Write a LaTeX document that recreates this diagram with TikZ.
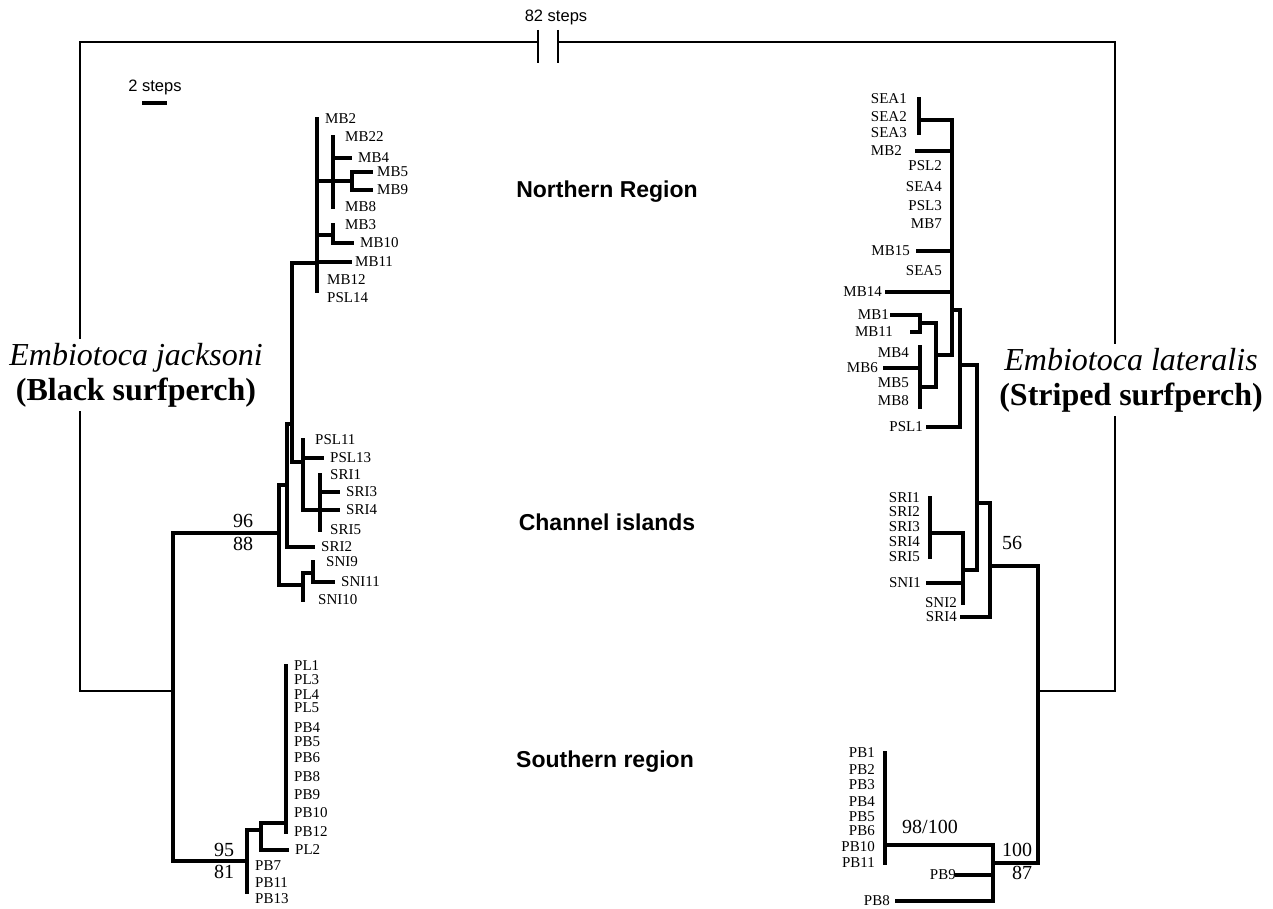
\documentclass[tikz,border=0pt]{standalone}
\usepackage{fontspec}
\setmainfont{Liberation Serif}
\setsansfont{Liberation Sans}
\usetikzlibrary{positioning,calc}
\newcommand{\leafsize}{\fontsize{15}{16}\selectfont}
\tikzset{
  branch/.style={line width=3.2pt, line cap=rect},
  frame/.style={line width=1.3pt},
  leafL/.style={anchor=west, inner xsep=8pt, inner ysep=1pt, font=\leafsize},
  leafR/.style={anchor=east, inner xsep=6pt, inner ysep=1pt, font=\leafsize},
  support/.style={inner sep=0pt, font=\fontsize{20}{22}\selectfont},
  region/.style={font=\sffamily\bfseries\fontsize{23}{26}\selectfont},
  steps/.style={inner sep=0pt, font=\sffamily\fontsize{16.5}{18}\selectfont},
  species/.style={align=center, fill=white, inner sep=4pt, font=\fontsize{32}{35}\selectfont},
}
\begin{document}
\begin{tikzpicture}[x=1pt, y=-1pt]
\useasboundingbox (0,0) rectangle (1273,909);

% internal nodes, E. jacksoni
\coordinate (jR)   at (173,691);
\coordinate (jA)   at (279,533);
\coordinate (jS)   at (247,861);
\coordinate (jB)   at (287,485);
\coordinate (jSN)  at (303,585);
\coordinate (jC)   at (292,424);
\coordinate (jN)   at (317,263);
\coordinate (jD)   at (303,462);
\coordinate (jE)   at (333,181);
\coordinate (jF)   at (352,181);
\coordinate (jG)   at (333,235);
\coordinate (jSR)  at (320,510);
\coordinate (jSN2) at (313,573);
\coordinate (jS2)  at (261,830);
\coordinate (jS3)  at (286,823);

% internal nodes, E. lateralis
\coordinate (lR)   at (1038,691);
\coordinate (lL)   at (990,566);
\coordinate (lT)   at (993,863);
\coordinate (lM)   at (977,503);
\coordinate (lO)   at (960,365);
\coordinate (lNs)  at (963,570);
\coordinate (lP)   at (952,310);
\coordinate (lSEA) at (919,120);
\coordinate (lQ)   at (936,355);
\coordinate (lQa)  at (920,323);
\coordinate (lQb)  at (920,387);
\coordinate (lSR)  at (930,533);
\coordinate (lPB)  at (885,845);

% frame with the 82 steps break
\coordinate (frameNW) at (80,42);
\coordinate (frameNE) at (1115,42);
\coordinate (brkL) at (538,42);
\coordinate (brkR) at (558,42);
\draw[frame] (jR) -| (frameNW) -- (brkL);
\draw[frame] (brkR) -- (frameNE) |- (lR);
\draw[frame] ([yshift=12pt]brkL) -- ([yshift=-21pt]brkL);
\draw[frame] ([yshift=12pt]brkR) -- ([yshift=-21pt]brkR);
\node[steps] (brkLbl) at (556,17) {82 steps};

% scale bar
\node[steps] (scaleLbl) at (155,87) {2 steps};
\draw[branch, line cap=butt] (142,103) -- (167,103);

\node[species] (jackLbl) at (136,375) {\textit{Embiotoca jacksoni}\\\textbf{(Black surfperch)}};
\node[species] (latLbl) at (1131,380) {\textit{Embiotoca lateralis}\\\textbf{(Striped surfperch)}};

\node[region] (northLbl) at (607,192) {Northern Region};
\node[region] (chanLbl)  at (607,522) {Channel islands};
\node[region] (southLbl) at (605,762) {Southern region};

% leaves, E. jacksoni
\node[leafL] (jMB2) at (317,119) {MB2};
\node[leafL, inner xsep=12pt] (jMB22) at (333,137) {MB22};
\node[leafL] (jMB4) at (350,158) {MB4};
\node[leafL, inner xsep=6pt] (jMB5) at (371,172) {MB5};
\node[leafL, inner xsep=6pt] (jMB9) at (371,190) {MB9};
\node[leafL, inner xsep=12pt] (jMB8) at (333,207) {MB8};
\node[leafL, inner xsep=12pt] (jMB3) at (333,225) {MB3};
\node[leafL] (jMB10) at (352,243) {MB10};
\node[leafL, inner xsep=5pt] (jMB11) at (350,262) {MB11};
\node[leafL, inner xsep=10pt] (jMB12) at (317,280) {MB12};
\node[leafL, inner xsep=10pt] (jPSL14) at (317,298) {PSL14};
\node[leafL, inner xsep=12pt] (jPSL11) at (303,440) {PSL11};
\node[leafL] (jPSL13) at (322,458) {PSL13};
\node[leafL, inner xsep=10pt] (jSRI1) at (320,475) {SRI1};
\node[leafL] (jSRI3) at (338,492) {SRI3};
\node[leafL] (jSRI4) at (338,510) {SRI4};
\node[leafL, inner xsep=10pt] (jSRI5) at (320,530) {SRI5};
\node[leafL] (jSRI2) at (313,547) {SRI2};
\node[leafL, inner xsep=13pt] (jSNI9) at (313,562) {SNI9};
\node[leafL] (jSNI11) at (333,582) {SNI11};
\node[leafL, inner xsep=15pt] (jSNI10) at (303,600) {SNI10};
\foreach \lbl/\yy in {PL1/666, PL3/680, PL4/695, PL5/708, PB4/728, PB5/742,
                      PB6/758, PB8/777, PB9/795, PB10/813, PB12/832}
  \node[leafL] (j\lbl) at (286,\yy) {\lbl};
\node[leafL] (jPL2) at (287,850) {PL2};
\foreach \lbl/\yy in {PB7/866, PB11/883, PB13/899}
  \node[leafL] (j\lbl) at (247,\yy) {\lbl};

% leaves, E. lateralis
\foreach \lbl/\yy in {SEA1/99, SEA2/117, SEA3/133}
  \node[leafR, inner xsep=12pt] (l\lbl) at (919,\yy) {\lbl};
\node[leafR, inner xsep=15pt] (lMB2) at (917,151) {MB2};
\foreach \lbl/\yy in {PSL2/166, SEA4/187, PSL3/206, MB7/224, SEA5/271}
  \node[leafR, inner xsep=10pt] (l\lbl) at (952,\yy) {\lbl};
\node[leafR, inner xsep=8pt] (lMB15) at (918,251) {MB15};
\node[leafR, inner xsep=5pt] (lMB14) at (887,292) {MB14};
\node[leafR, inner xsep=3pt] (lMB1) at (892,315) {MB1};
\node[leafR, inner xsep=19pt] (lMB11) at (912,332) {MB11};
\foreach \lbl/\yy in {MB4/353, MB5/383, MB8/401}
  \node[leafR, inner xsep=11pt] (l\lbl) at (920,\yy) {\lbl};
\node[leafR, inner xsep=7pt] (lMB6) at (885,368) {MB6};
\node[leafR, inner xsep=5pt] (lPSL1) at (928,427) {PSL1};
\foreach \lbl/\yy in {SRI1/498, SRI2/512, SRI3/527, SRI4/542, SRI5/557}
  \node[leafR, inner xsep=10pt] (l\lbl) at (930,\yy) {\lbl};
\node[leafR, inner xsep=7pt] (lSNI1) at (928,583) {SNI1};
\node[leafR] (lSNI2) at (963,603) {SNI2};
\node[leafR, inner xsep=5pt] (lSRI4b) at (962,617) {SRI4};
\foreach \lbl/\yy in {PB1/753, PB2/770, PB3/785, PB4/802, PB5/817, PB6/831, PB10/847, PB11/863}
  \node[leafR, inner xsep=10pt] (l\lbl) at (885,\yy) {\lbl};
\node[leafR, inner xsep=1pt] (lPB9) at (957,875) {PB9};
\node[leafR, inner xsep=7pt] (lPB8) at (897,901) {PB8};

% support values
\node[support] (s96) at (243,521) {96};
\node[support] (s88) at (243,544) {88};
\node[support] (s95) at (224,850) {95};
\node[support] (s81) at (224,872) {81};
\node[support] (s56) at (1012,543) {56};
\node[support] (s98) at (930,827) {98/100};
\node[support] (s100) at (1017,850) {100};
\node[support] (s87) at (1022,873) {87};

% tree, E. jacksoni
\draw[branch] (jR |- jA) -- (jR |- jS);
\draw[branch] (jA |- jB) -- (jA |- jSN);
\draw[branch] (jB |- jC) -- (jB |- jSRI2);
\draw[branch] (jC |- jN) -- (jC |- jD);
\draw[branch] (jN |- jMB2) -- (jN |- jPSL14.north);
\draw[branch] (jE |- jMB22) -- (jE |- jMB8);
\draw[branch] (jF |- jMB5) -- (jF |- jMB9);
\draw[branch] (jG |- jMB3) -- (jG |- jMB10);
\draw[branch] (jD |- jPSL11) -- (jD |- jSR);
\draw[branch] (jSR |- jSRI1) -- (jSR |- jSRI5);
\draw[branch] (jSN |- jSN2) -- (jSN |- jSNI10);
\draw[branch] (jSN2 |- jSNI9) -- (jSN2 |- jSNI11);
\draw[branch] (jS |- jS2) -- (jS |- jPB13.north);
\draw[branch] (jS2 |- jS3) -- (jS2 |- jPL2);
\draw[branch] (jS3 |- jPL1) -- (jS3 |- jPB12);

\draw[branch] (jR |- jA) -- (jA);
\draw[branch] (jR |- jS) -- (jS);
\draw[branch] (jA |- jB) -- (jB);
\draw[branch] (jA |- jSN) -- (jSN);
\draw[branch] (jB |- jC) -- (jC);
\draw[branch] (jB |- jSRI2) -- (jSRI2.west);
\draw[branch] (jC |- jN) -- (jN);
\draw[branch] (jC |- jD) -- (jD);
\draw[branch] (jN |- jE) -- (jE);
\draw[branch] (jN |- jG) -- (jG);
\draw[branch] (jN |- jMB11) -- (jMB11.west);
\draw[branch] (jE |- jMB4) -- (jMB4.west);
\draw[branch] (jE |- jF) -- (jF);
\draw[branch] (jF |- jMB5) -- (jMB5.west);
\draw[branch] (jF |- jMB9) -- (jMB9.west);
\draw[branch] (jG |- jMB10) -- (jMB10.west);
\draw[branch] (jD |- jPSL13) -- (jPSL13.west);
\draw[branch] (jD |- jSR) -- (jSR);
\draw[branch] (jSR |- jSRI3) -- (jSRI3.west);
\draw[branch] (jSR |- jSRI4) -- (jSRI4.west);
\draw[branch] (jSN |- jSN2) -- (jSN2);
\draw[branch] (jSN2 |- jSNI11) -- (jSNI11.west);
\draw[branch] (jS |- jS2) -- (jS2);
\draw[branch] (jS2 |- jS3) -- (jS3);
\draw[branch] (jS2 |- jPL2) -- (jPL2.west);

% tree, E. lateralis
\draw[branch] (lR |- lL) -- (lR |- lT);
\draw[branch] (lL |- lM) -- (lL |- lSRI4b);
\draw[branch] (lM |- lO) -- (lM |- lNs);
\draw[branch] (lO |- lP) -- (lO |- lPSL1);
\draw[branch] (lP |- lSEA) -- (lP |- lQ);
\draw[branch] (lSEA |- lSEA1) -- (lSEA |- lSEA3);
\draw[branch] (lQ |- lQa) -- (lQ |- lQb);
\draw[branch] (lQa |- lMB1) -- (lQa |- lMB11);
\draw[branch] (lQb |- lMB4.north) -- (lQb |- lMB8.south);
\draw[branch] (lNs |- lSR) -- (lNs |- lSNI2);
\draw[branch] (lSR |- lSRI1) -- (lSR |- lSRI5);
\draw[branch] (lT |- lPB) -- (lT |- lPB8);
\draw[branch] (lPB |- lPB1) -- (lPB |- lPB11);

\draw[branch] (lR |- lL) -- (lL);
\draw[branch] (lR |- lT) -- (lT);
\draw[branch] (lL |- lM) -- (lM);
\draw[branch] (lL |- lSRI4b) -- (lSRI4b.east);
\draw[branch] (lM |- lO) -- (lO);
\draw[branch] (lM |- lNs) -- (lNs);
\draw[branch] (lO |- lP) -- (lP);
\draw[branch] (lO |- lPSL1) -- (lPSL1.east);
\draw[branch] (lP |- lSEA) -- (lSEA);
\draw[branch] (lP |- lMB2) -- (lMB2.east);
\draw[branch] (lP |- lMB15) -- (lMB15.east);
\draw[branch] (lP |- lMB14) -- (lMB14.east);
\draw[branch] (lP |- lQ) -- (lQ);
\draw[branch] (lQ |- lQa) -- (lQa);
\draw[branch] (lQ |- lQb) -- (lQb);
\draw[branch] (lQa |- lMB1) -- (lMB1.east);
\draw[branch] (lQa |- lMB11) -- (lMB11.east);
\draw[branch] (lQb |- lMB6) -- (lMB6.east);
\draw[branch] (lNs |- lSR) -- (lSR);
\draw[branch] (lNs |- lSNI1) -- (lSNI1.east);
\draw[branch] (lT |- lPB) -- (lPB);
\draw[branch] (lT |- lPB9) -- (lPB9.east);
\draw[branch] (lT |- lPB8) -- (lPB8.east);
\end{tikzpicture}
\end{document}
